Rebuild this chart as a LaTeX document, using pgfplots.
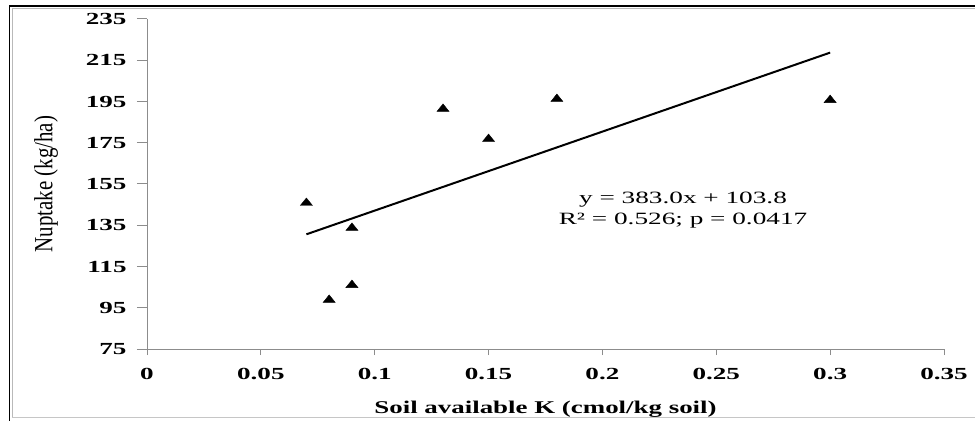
\documentclass[border=0pt]{standalone}
\usepackage{fontspec}
\setmainfont{Liberation Serif}
\newfontfamily\tickfont{Liberation Serif}[FakeStretch=1.6]
\newfontfamily\labfont{Liberation Serif}[FakeStretch=1.5]
\newfontfamily\eqfont{Liberation Serif}[FakeStretch=1.58]
\usepackage{pgfplots}
\pgfplotsset{compat=1.18}
\definecolor{axisgray}{HTML}{8C8C8C}

\begin{document}
\begin{tikzpicture}
\path[use as bounding box] (0,0) rectangle (975bp,421bp);
% outer frame
\draw[black, line width=1.6bp] (9.5bp,0) -- (9.5bp,415bp) -- (975bp,415bp);
\draw[gray!55, line width=1bp] (12bp,3bp) -- (12bp,412.5bp) -- (975bp,412.5bp);
\draw[gray!45, line width=1bp] (12bp,3bp) -- (975bp,3bp);

\begin{axis}[
  at={(147bp,72bp)}, anchor=south west,
  scale only axis, width=797bp, height=330bp,
  xmin=0, xmax=0.35, ymin=75, ymax=235,
  axis x line*=bottom, axis y line*=left,
  axis line style={draw=axisgray, line width=1bp},
  tick style={draw=axisgray, line width=1bp},
  tick align=outside,
  xtick style={/pgfplots/major tick length=6bp},
  ytick style={/pgfplots/major tick length=10bp},
  minor tick num=0,
  xtick={0,0.05,0.1,0.15,0.2,0.25,0.3,0.35},
  xticklabels={0,0.05,0.1,0.15,0.2,0.25,0.3,0.35},
  ytick={75,95,115,135,155,175,195,215,235},
  /pgf/number format/assume math mode=true,
  tick label style={font=\tickfont\bfseries\fontsize{17}{20}\selectfont},
  yticklabel style={anchor=east, inner sep=0pt, xshift=-16bp},
  xticklabel style={anchor=north, inner sep=0pt, yshift=-15bp},
  xlabel={\labfont\bfseries Soil available K (cmol/kg soil)},
  xlabel style={at={(axis description cs:0.5,-0.194)}, anchor=base,
    font=\fontsize{18}{21}\selectfont},
  ylabel={\scalebox{1}[1.25]{Nuptake (kg/ha)}},
  ylabel style={at={(axis description cs:-0.1267,0.5)}, anchor=center,
    font=\fontsize{21}{24}\selectfont},
  clip=false,
]
% fitted regression line
\addplot[black, line width=2bp, no marks] coordinates {(0.07,130.61) (0.3,218.7)};
% observations
\addplot[only marks, mark=triangle*, mark size=5bp, black,
  mark options={xscale=1.4}] coordinates {
  (0.07,145.8) (0.08,98.8) (0.09,106.0) (0.09,133.7)
  (0.13,191.4) (0.15,176.8) (0.18,196.2) (0.30,195.7)
};
\node[align=center, font=\eqfont\fontsize{17.3}{21}\selectfont, inner sep=0pt]
  at (axis cs:0.2354,142.4) {y = 383.0x + 103.8\\R² = 0.526; p = 0.0417};
\end{axis}
\end{tikzpicture}
\end{document}
